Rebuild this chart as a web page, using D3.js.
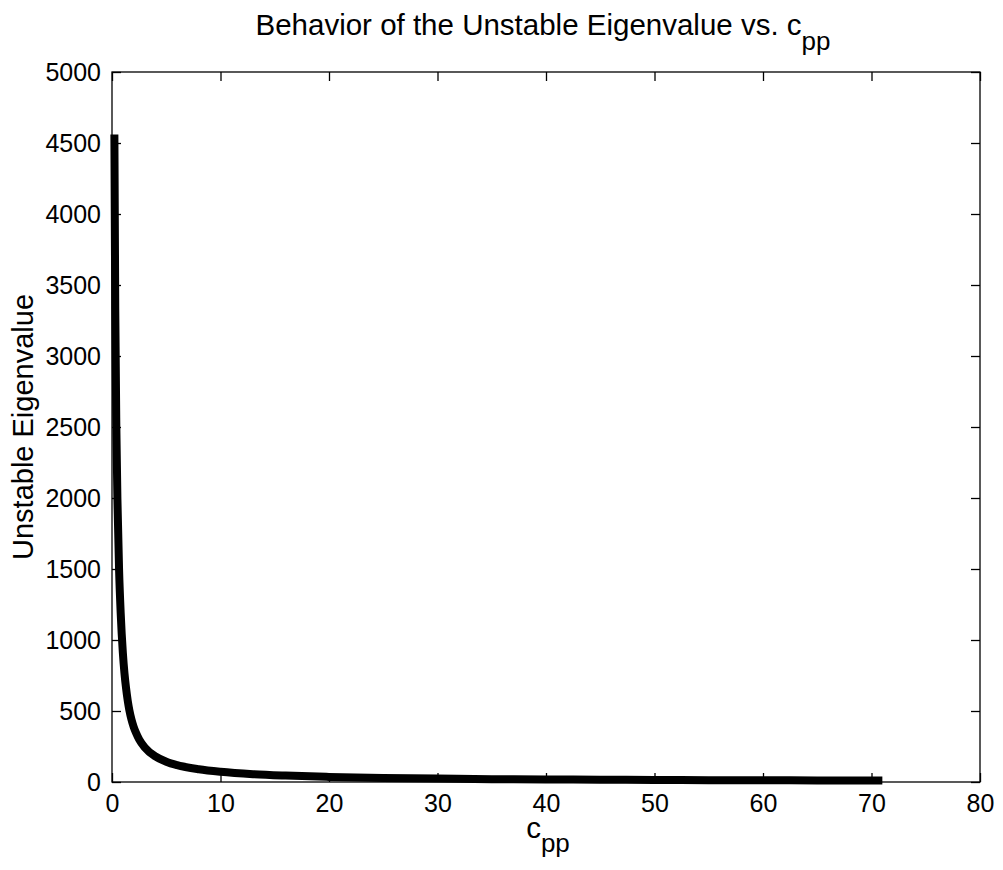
<!DOCTYPE html>
<html>
<head>
<meta charset="utf-8">
<script src="https://cdn.jsdelivr.net/npm/d3@7"></script>
<style>
  body { margin: 0; background: #fff; }
  text { font-family: "Liberation Sans", Arial, Helvetica, sans-serif; fill: #000; }
</style>
</head>
<body>
<svg id="chart"></svg>
<script>
// values
const cpp = [0.22, 0.3, 0.4, 0.5, 0.65, 0.8, 1.0, 1.15, 1.3, 1.45, 1.6, 1.8, 2, 2.2, 2.5, 3, 4, 5, 6, 8, 10, 13, 16, 20, 25, 30, 35, 40, 45, 50, 55, 60, 65, 71]
const eigen = [4560, 3330, 2500, 1990, 1500, 1190, 910, 765, 658, 572, 506, 439, 388, 348, 300, 245, 180, 143, 119, 90, 72, 55, 45, 36, 29, 24, 20, 18, 16, 14, 13, 12, 11, 10]
const xTicks = [0, 10, 20, 30, 40, 50, 60, 70, 80]
const yTicks = [0, 500, 1000, 1500, 2000, 2500, 3000, 3500, 4000, 4500, 5000]

const width = 1003,
    height = 870
const plotLeft = 112, plotRight = 980, plotTop = 72, plotBottom = 782

const svg = d3.select("#chart")
    .attr("width", width)
    .attr("height", height)

const x = d3.scaleLinear().domain([0, 80]).range([plotLeft, plotRight])
const y = d3.scaleLinear().domain([0, 5000]).range([plotBottom, plotTop])

// box
svg.append("rect")
    .attr("x", plotLeft).attr("y", plotTop)
    .attr("width", plotRight - plotLeft).attr("height", plotBottom - plotTop)
    .attr("fill", "none").attr("stroke", "#000").attr("stroke-width", 1.3)

// axes, ticks pointing inward
const tickLen = 9
svg.append("g")
    .attr("transform", "translate(0," + plotBottom + ")")
    .call(d3.axisBottom(x).tickValues(xTicks).tickSize(-tickLen).tickPadding(12).tickFormat(d3.format("d")))
svg.append("g")
    .attr("transform", "translate(0," + plotTop + ")")
    .call(d3.axisTop(x).tickValues(xTicks).tickSize(-tickLen).tickFormat(""))
svg.append("g")
    .attr("transform", "translate(" + plotLeft + ",0)")
    .call(d3.axisLeft(y).tickValues(yTicks).tickSize(-tickLen).tickPadding(11).tickFormat(d3.format("d")))
svg.append("g")
    .attr("transform", "translate(" + plotRight + ",0)")
    .call(d3.axisRight(y).tickValues(yTicks).tickSize(-tickLen).tickFormat(""))

svg.selectAll(".domain").remove()
svg.selectAll(".tick line").attr("stroke", "#000").attr("stroke-width", 1.3)
svg.selectAll(".tick text")
    .style("font-family", '"Liberation Sans", Arial, sans-serif')
    .style("font-size", "25px")

// curve
const points = cpp.map((c, i) => ({ c: c, v: eigen[i] }))
svg.append("path")
    .datum(points)
    .attr("fill", "none")
    .attr("stroke", "#000")
    .attr("stroke-width", 8)
    .attr("stroke-linejoin", "round")
    .attr("d", d3.line().x(d => x(d.c)).y(d => y(d.v)).curve(d3.curveMonotoneX))

// title
const title = svg.append("text")
    .attr("x", 543).attr("y", 35)
    .attr("text-anchor", "middle")
    .style("font-size", "29.5px")
title.append("tspan").text("Behavior of the Unstable Eigenvalue vs. c")
title.append("tspan").attr("dy", 15).style("font-size", "26px").text("pp")

// x label
const xl = svg.append("text")
    .attr("x", 548).attr("y", 838)
    .attr("text-anchor", "middle")
    .style("font-size", "29.5px")
xl.append("tspan").text("c")
xl.append("tspan").attr("dy", 14).style("font-size", "26px").text("pp")

// y label
svg.append("text")
    .attr("transform", "translate(33," + (plotTop + plotBottom) / 2 + ") rotate(-90)")
    .attr("text-anchor", "middle")
    .style("font-size", "29px")
    .text("Unstable Eigenvalue")
</script>
</body>
</html>
